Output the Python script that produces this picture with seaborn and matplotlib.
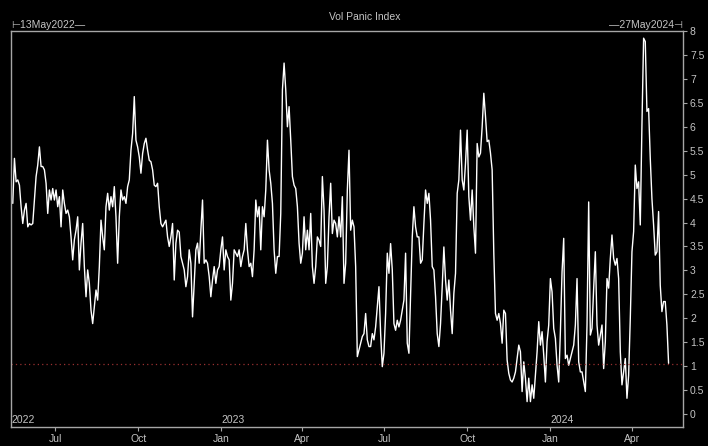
import numpy as np
import pandas as pd
import matplotlib
matplotlib.use('Agg')
import matplotlib.pyplot as plt
import matplotlib.dates as mdates
from matplotlib.ticker import FuncFormatter
import seaborn as sns

# Vol Panic Index in four stretches (mid-May 2022 -> mid-May 2024)
vpi_2022 = [4.40, 5.34, 4.85, 4.89, 4.78, 4.33, 3.98, 4.26, 4.40, 3.91, 3.98, 3.95, 3.98, 4.47,
            4.96, 5.20, 5.58, 5.17, 5.17, 5.10, 4.82, 4.19, 4.68, 4.47, 4.71, 4.47, 4.68, 4.33,
            4.54, 3.91, 4.68, 4.40, 4.19, 4.26, 4.12, 3.70, 3.22, 3.64, 3.84, 4.12, 3.01, 3.57,
            3.98, 3.08, 2.45, 3.01, 2.73, 2.17, 1.89, 2.24, 2.59, 2.38, 3.08, 4.05, 3.70, 3.43,
            4.33, 4.61, 4.26, 4.54, 4.33, 4.75, 4.12, 3.15, 4.12, 4.68, 4.47, 4.54, 4.40, 4.75,
            4.89, 5.51, 5.86, 6.63, 5.72, 5.58, 5.37, 5.03, 5.44, 5.65, 5.76, 5.51, 5.30, 5.27,
            5.10, 4.78, 4.75, 4.82, 4.33, 3.98, 3.91, 3.98, 4.05, 3.70, 3.50, 3.70, 3.98, 2.80,
            3.57, 3.84, 3.80]
vpi_2023a = [3.29, 3.15, 3.01, 2.66, 2.87, 3.43, 3.15, 2.03, 2.73, 3.43, 3.57, 3.15, 3.84, 4.47,
             3.15, 3.22, 3.15, 2.87, 2.45, 2.80, 3.08, 2.73, 3.01, 3.08, 3.43, 3.70, 3.01, 3.43,
             3.29, 3.22, 2.38, 2.73, 3.43, 3.36, 3.29, 3.43, 3.08, 3.29, 3.43, 3.98, 3.43, 3.08,
             3.15, 2.87, 3.43, 4.47, 4.12, 4.33, 3.43, 4.33, 4.12, 4.68, 5.72, 5.10, 4.82, 4.40,
             3.43, 2.94, 3.29, 3.29, 4.19, 6.77, 7.33, 6.77, 6.00, 6.42, 5.72, 4.96, 4.78, 4.71,
             4.33, 3.57, 3.15, 3.36, 4.12, 3.43, 3.84, 3.43, 4.19, 3.08, 2.73, 3.08, 3.70, 3.63,
             3.50, 4.96, 4.26, 2.73, 3.08, 4.12, 4.82, 3.77, 4.05, 3.98, 3.70, 4.12, 3.70, 4.54,
             2.73, 3.15]
vpi_2023b = [4.68, 5.51, 3.84, 4.05, 3.91, 3.08, 1.20, 1.34, 1.48, 1.62, 1.68, 2.10, 1.55, 1.41,
             1.41, 1.68, 1.55, 1.82, 2.24, 2.66, 1.68, 0.99, 1.27, 2.10, 3.36, 2.94, 3.56, 3.01,
             1.89, 1.75, 1.96, 1.82, 1.96, 2.17, 2.38, 3.36, 1.48, 1.27, 2.52, 3.70, 4.33, 3.91,
             3.70, 3.70, 3.15, 3.22, 3.98, 4.68, 4.40, 4.61, 4.05, 3.08, 3.01, 2.45, 1.68, 1.41,
             1.89, 2.66, 3.49, 2.80, 2.38, 2.80, 2.17, 1.68, 2.52, 2.94, 4.61, 4.89, 5.93, 4.89,
             4.68, 5.24, 5.93, 4.54, 4.05, 4.68, 3.91, 3.36, 5.65, 5.37, 5.45, 6.00, 6.70, 6.22,
             5.69, 5.72, 5.45, 5.10, 3.36, 2.10, 1.96, 2.10, 1.89, 1.48, 2.17, 2.10, 1.13, 0.85,
             0.71, 0.67]
vpi_2024 = [0.75, 0.88, 1.16, 1.44, 1.30, 0.47, 1.09, 0.75, 0.26, 0.75, 0.26, 0.61, 0.33, 0.81,
            1.30, 1.93, 1.44, 1.72, 1.23, 0.67, 1.51, 1.86, 2.83, 2.55, 1.79, 1.58, 1.02, 0.67,
            1.72, 2.97, 3.67, 1.16, 1.23, 1.02, 1.16, 1.30, 1.44, 1.86, 2.83, 1.09, 0.88, 0.88,
            0.67, 0.47, 1.86, 4.43, 1.65, 1.79, 2.63, 3.39, 1.86, 1.44, 1.65, 1.86, 0.95, 1.51,
            2.83, 2.63, 3.25, 3.74, 3.25, 3.11, 3.25, 2.83, 1.30, 0.61, 0.88, 1.16, 0.33, 0.81,
            2.00, 3.39, 3.81, 5.20, 4.71, 4.85, 3.95, 6.04, 7.85, 7.78, 6.32, 6.38, 5.34, 4.50,
            3.95, 3.32, 3.39, 4.23, 2.69, 2.14, 2.35, 2.35, 1.86, 1.06]

values = vpi_2022 + vpi_2023a + vpi_2023b + vpi_2024
first_obs, last_obs = '2022-05-15', '2024-05-11'
axis_start, axis_end = '2022-05-13', '2024-05-27'
panic_level = 1.05
year_marks = ['2022-05-13', '2023-01-01', '2024-01-01']

df = pd.DataFrame({
    'date': pd.date_range(first_obs, last_obs, periods=len(values)),
    'vpi': values,
})

sns.set_theme(style='ticks')
plt.rcParams['font.family'] = ['Liberation Sans', 'DejaVu Sans']
txt = '#c4c4c4'
edge = '#a6a6a6'

fig = plt.figure(figsize=(7.08, 4.46), dpi=100, facecolor='black')
ax = fig.add_axes([0.0155, 0.0426, 0.9492, 0.8879])
ax.set_facecolor('black')

sns.lineplot(data=df, x='date', y='vpi', color='white', lw=1.0, ax=ax)
ax.axhline(panic_level, color='#9a3030', lw=0.9, linestyle=(0, (1, 2.5)))

ax.set_xlim(pd.Timestamp(axis_start), pd.Timestamp(axis_end))
ax.set_ylim(-0.27, 8)
ax.set_xlabel('')
ax.set_ylabel('')

# y axis on the right, 0.5 steps
ax.yaxis.tick_right()
ax.set_yticks(np.arange(0, 8.01, 0.5))
ax.yaxis.set_major_formatter(FuncFormatter(lambda v, p: f'{v:g}'))

# quarter months on x
ax.xaxis.set_major_locator(mdates.MonthLocator(bymonth=[1, 4, 7, 10]))
ax.xaxis.set_major_formatter(mdates.DateFormatter('%b'))

ax.tick_params(axis='both', colors=edge, labelcolor=txt, labelsize=7.5,
               length=3, width=0.8, direction='out', pad=2)
for s in ax.spines.values():
    s.set_color(edge)
    s.set_linewidth(1.0)

# year labels sitting on the bottom axis
for d in year_marks:
    ax.text(pd.Timestamp(d), 0.005, pd.Timestamp(d).strftime('%Y'),
            transform=ax.get_xaxis_transform(), ha='left', va='bottom',
            color=txt, fontsize=7.5)

fig.text(0.515, 0.962, 'Vol Panic Index', ha='center', va='center', color=txt, fontsize=7.5)
fig.text(0.0155, 0.944, '⊢13May2022—', ha='left', va='center', color=txt, fontsize=7.5)
fig.text(0.9647, 0.944, '—27May2024⊣', ha='right', va='center', color=txt, fontsize=7.5)

fig.savefig('out.png', dpi=100, facecolor='black')
